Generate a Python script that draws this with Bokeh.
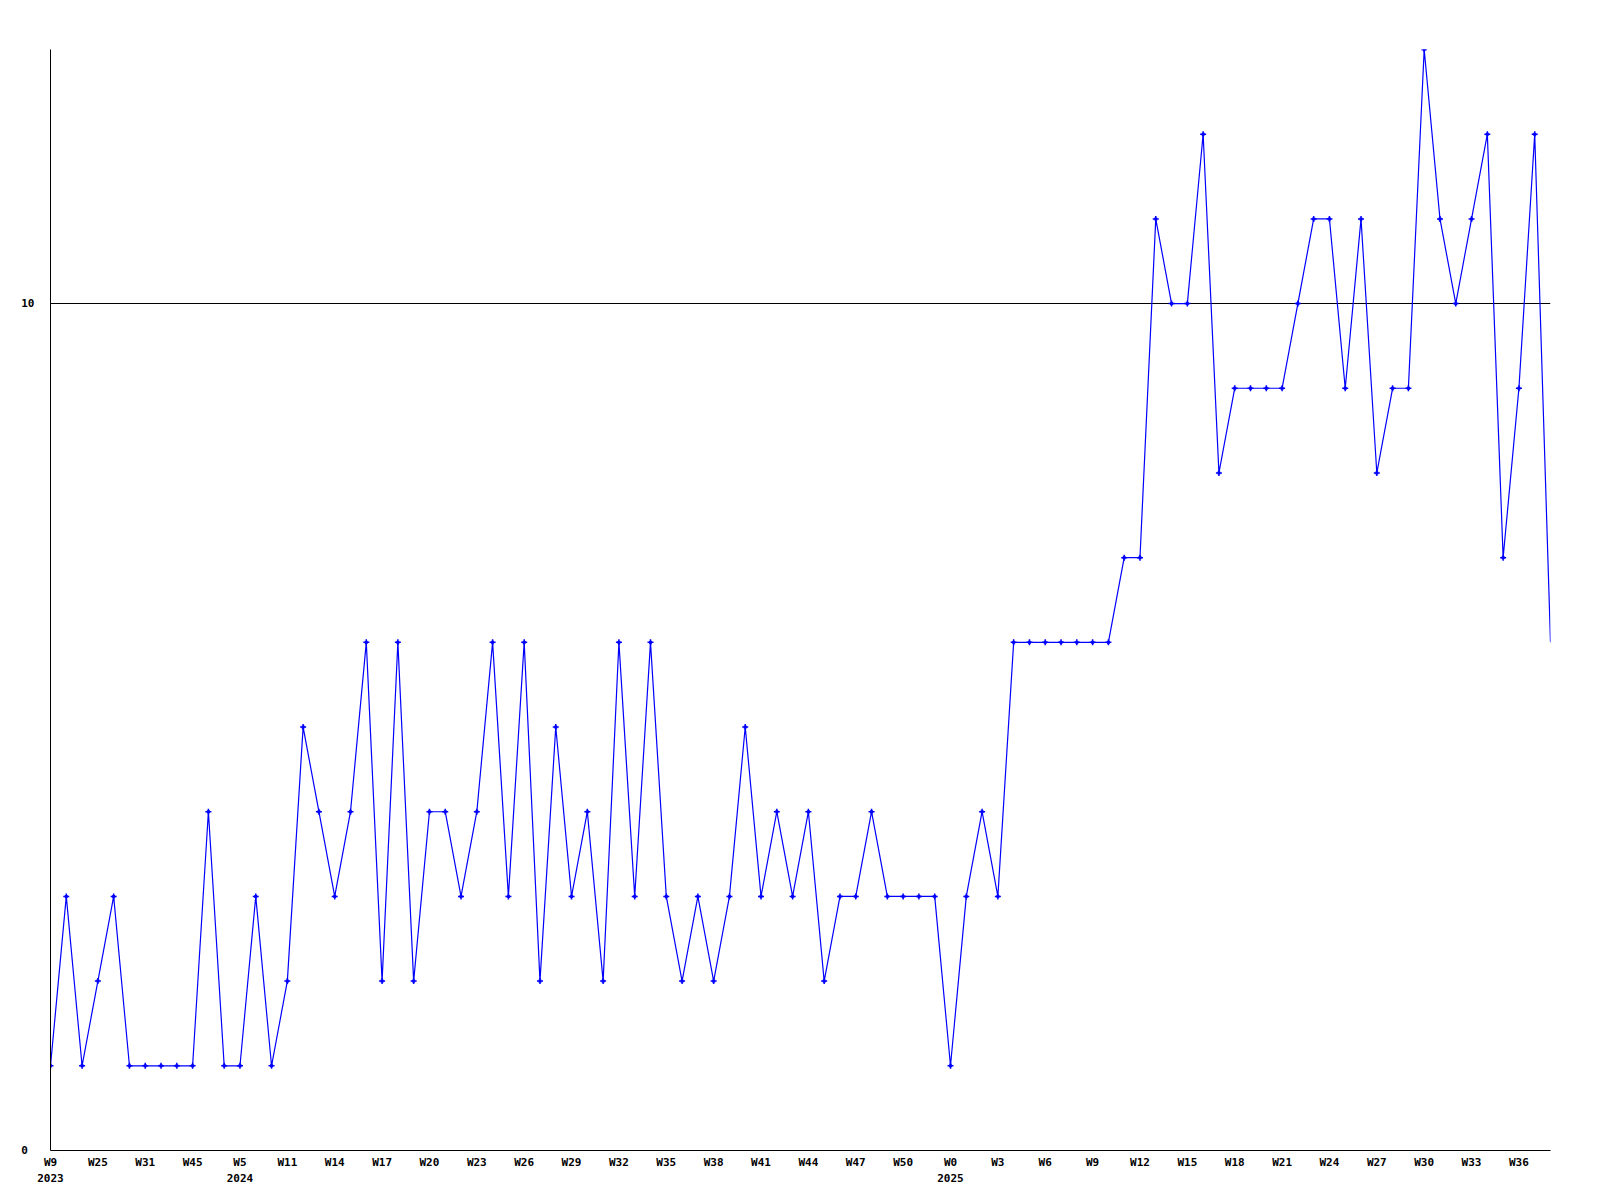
from bokeh.plotting import figure
from bokeh.models import Range1d, FixedTicker
from bokeh.embed import file_html
from bokeh.resources import INLINE

values = [1, 3, 1, 2, 3, 1, 1, 1, 1, 1,
          4, 1, 1, 3, 1, 2, 5, 4, 3, 4,
          6, 2, 6, 2, 4, 4, 3, 4, 6, 3,
          6, 2, 5, 3, 4, 2, 6, 3, 6, 3,
          2, 3, 2, 3, 5, 3, 4, 3, 4, 2,
          3, 3, 4, 3, 3, 3, 3, 1, 3, 4,
          3, 6, 6, 6, 6, 6, 6, 6, 7, 7,
          11, 10, 10, 12, 8, 9, 9, 9, 9, 10,
          11, 11, 9, 11, 8, 9, 9, 13, 11, 10,
          11, 12, 7, 9, 12, 6]

tick_labels = ["W9", "W25", "W31", "W45", "W5", "W11", "W14", "W17", "W20", "W23",
               "W26", "W29", "W32", "W35", "W38", "W41", "W44", "W47", "W50", "W0",
               "W3", "W6", "W9", "W12", "W15", "W18", "W21", "W24", "W27", "W30",
               "W33", "W36"]
year_marks = {0: "2023", 4: "2024", 19: "2025"}
y_ticks = [0, 10]

x = list(range(len(values)))

p = figure(width=1592, height=1192, output_backend="svg", toolbar_location=None,
           x_range=Range1d(0, len(values) - 1), y_range=Range1d(0, 13),
           min_border_left=50, min_border_right=42, min_border_top=49, min_border_bottom=42)
p.outline_line_color = None
p.background_fill_color = "white"

p.line(x, values, line_color="#0000ff", line_width=1.2)
p.scatter(x[:-1], values[:-1], marker="cross", size=6, line_width=1.5, color="#0000ff")
p.scatter(x[:-1], values[:-1], marker="square", size=3, line_width=0, color="#0000ff")

tick_pos = list(range(0, len(values), 3))
overrides = {}
for k, (pos, lab) in enumerate(zip(tick_pos, tick_labels)):
    overrides[pos] = lab + ("\n" + year_marks[k] if k in year_marks else "")

xa = p.xaxis[0]
xa.ticker = FixedTicker(ticks=tick_pos)
xa.major_label_overrides = overrides
xa.major_tick_line_color = None
xa.major_tick_out = 0
xa.major_tick_in = 0
xa.minor_tick_line_color = None
xa.major_label_standoff = 5
xa.axis_line_color = "black"
xa.major_label_text_font = "DejaVu Sans Mono"
xa.major_label_text_font_style = "bold"
xa.major_label_text_font_size = "11px"
xa.major_label_text_line_height = 1.25
xa.major_label_text_color = "black"

ya = p.yaxis[0]
ya.ticker = FixedTicker(ticks=y_ticks)
ya.major_label_overrides = {0: "0 ", 10: "10"}
ya.major_tick_line_color = None
ya.major_tick_out = 0
ya.major_tick_in = 0
ya.minor_tick_line_color = None
ya.major_label_standoff = 16
ya.axis_line_color = "black"
ya.major_label_text_font = "DejaVu Sans Mono"
ya.major_label_text_font_style = "bold"
ya.major_label_text_font_size = "11px"
ya.major_label_text_color = "black"

p.xgrid.visible = False
p.ygrid.ticker = FixedTicker(ticks=[10])
p.ygrid.grid_line_color = "black"
p.ygrid.grid_line_width = 1

open("out.html", "w").write(file_html(p, INLINE))
